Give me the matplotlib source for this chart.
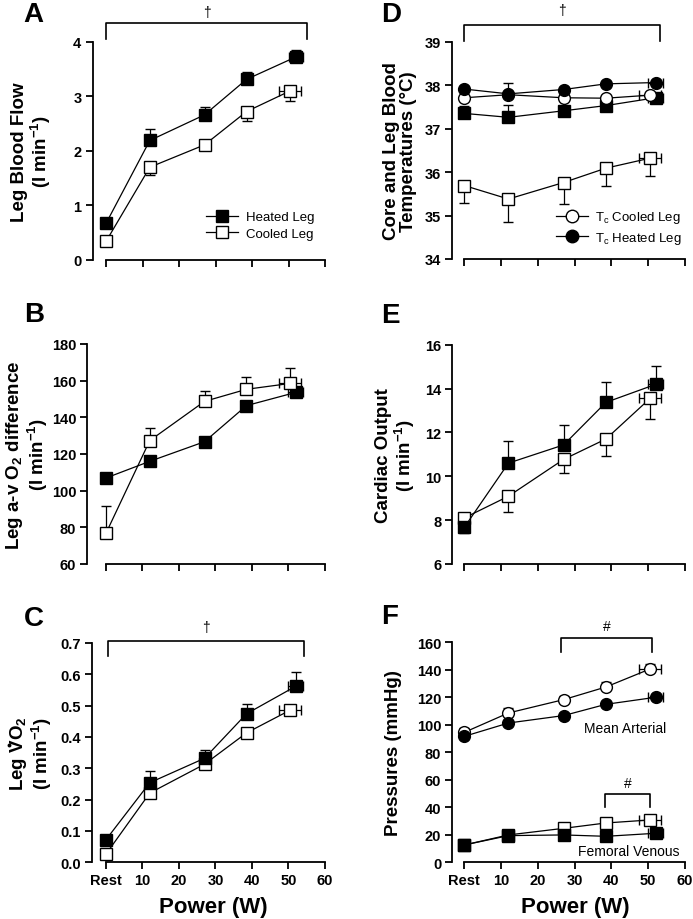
import numpy as np
import matplotlib.pyplot as plt
from matplotlib.lines import Line2D

plt.rcParams['font.family'] = ['Liberation Sans', 'DejaVu Sans']
plt.rcParams['font.weight'] = 'bold'
plt.rcParams['mathtext.fontset'] = 'custom'
plt.rcParams['mathtext.rm'] = 'Liberation Sans:weight=normal'
plt.rcParams['mathtext.bf'] = 'Liberation Sans:weight=bold'
plt.rcParams['mathtext.it'] = 'Liberation Sans:style=italic'
plt.rcParams['mathtext.default'] = 'bf'

# ---- data ----
power_ticks = [0, 10, 20, 30, 40, 50, 60]
power_labels = ['Rest', '10', '20', '30', '40', '50', '60']
power_heated = [0, 12, 27, 38.5, 52]
power_cooled = [0, 12, 27, 38.5, 50.5]
power_sd_heated = [0, 0, 0, 0, 2.0]
power_sd_cooled = [0, 0, 0, 0, 3.0]

# A: leg blood flow
flow_heated = [0.67, 2.19, 2.66, 3.31, 3.72]
flow_heated_up = [0.0, 0.21, 0.14, 0.14, 0.13]
flow_cooled = [0.34, 1.70, 2.11, 2.72, 3.10]
flow_cooled_dn = [0.0, 0.15, 0.08, 0.18, 0.19]

# B: leg a-v O2 difference
avo2_heated = [106.9, 116.0, 126.7, 146.4, 153.6]
avo2_heated_up = [1.5, 2.0, 2.0, 2.0, 2.0]
avo2_cooled = [76.7, 127.3, 148.7, 155.3, 158.5]
avo2_cooled_up = [15.1, 6.9, 5.7, 6.9, 8.2]

# C: leg VO2
vo2_heated = [0.072, 0.254, 0.332, 0.474, 0.562]
vo2_heated_up = [0.0, 0.039, 0.027, 0.031, 0.047]
vo2_cooled = [0.026, 0.221, 0.313, 0.413, 0.486]
vo2_cooled_dn = [0.0, 0.01, 0.01, 0.01, 0.01]

# D: temperatures
tc_heated = [37.91, 37.80, 37.90, 38.03, 38.06]
tc_heated_up = [0.03, 0.25, 0.03, 0.03, 0.03]
tc_cooled = [37.71, 37.78, 37.71, 37.70, 37.77]
tc_cooled_up = [0.03, 0.03, 0.03, 0.03, 0.03]
blood_heated = [37.35, 37.26, 37.41, 37.53, 37.71]
blood_heated_up = [0.16, 0.28, 0.10, 0.08, 0.05]
blood_cooled = [35.69, 35.38, 35.76, 36.09, 36.32]
blood_cooled_dn = [0.39, 0.52, 0.49, 0.42, 0.40]

# E: cardiac output
co_heated = [7.67, 10.60, 11.43, 13.37, 14.19]
co_heated_dn = [0.27, 0.0, 0.0, 0.0, 0.0]
co_heated_up = [0.0, 1.02, 0.91, 0.91, 0.85]
co_cooled = [8.10, 9.09, 10.77, 11.70, 13.55]
co_cooled_dn = [0.2, 0.70, 0.62, 0.76, 0.94]

# F: pressures
map_heated = [91.6, 101.3, 106.7, 114.9, 120.0]
map_heated_up = [2.0, 2.0, 2.0, 2.0, 2.0]
map_cooled = [94.5, 108.6, 118.3, 127.5, 140.6]
map_cooled_up = [3.0, 3.6, 3.0, 3.5, 3.6]
fv_heated = [12.6, 19.4, 19.9, 18.9, 21.1]
fv_cooled = [12.6, 19.9, 24.7, 28.6, 30.8]
fv_err = [1.0, 1.0, 1.0, 1.0, 1.0]
zeros = [0, 0, 0, 0, 0]

W, H = 693, 920
fig = plt.figure(figsize=(W / 100, H / 100), dpi=100)


def rect(left, right, top, bottom):
    return [left / W, 1 - bottom / H, (right - left) / W, (bottom - top) / H]


def series(ax, x, y, xerr, lo, hi, marker, filled, z=3):
    ax.errorbar(x, y, yerr=[lo, hi], xerr=xerr, marker=marker, ms=8.5,
                mfc='black' if filled else 'white', mec='black', mew=1.0,
                color='black', lw=0.9, ecolor='black', elinewidth=0.9,
                capsize=3.5, capthick=0.9, zorder=z, clip_on=False)


def style(ax, xleft, ylim, yticks, ylabel, labx, xlabels=False, yfmt='{:g}'):
    ax.set_xlim(xleft, 60)
    ax.set_ylim(*ylim)
    ax.spines['top'].set_visible(False)
    ax.spines['right'].set_visible(False)
    ax.spines['left'].set_bounds(*ylim)
    ax.spines['bottom'].set_bounds(0, 60)
    for s in ['left', 'bottom']:
        ax.spines[s].set_linewidth(1.3)
    ax.set_xticks(power_ticks)
    ax.set_yticks(yticks)
    ax.set_yticklabels([yfmt.format(v) for v in yticks])
    if xlabels:
        ax.set_xticklabels(power_labels)
        ax.set_xlabel('Power (W)', fontsize=16, fontweight='bold')
        ax.xaxis.set_label_coords(0.52, -0.153)
        ax.xaxis.label.set_va('top')
    else:
        ax.set_xticklabels([])
    ax.tick_params(direction='out', length=5, width=1.3, labelsize=10.5, pad=3)
    ax.set_ylabel(ylabel, fontsize=13.5, fontweight='bold', linespacing=1.05)
    ax.yaxis.set_label_coords(labx, 0.5)


def bracket(ax, x0, x1, ytick, yline, ytext, sym):
    ax.plot([x0, x0, x1, x1], [ytick, yline, yline, ytick], color='black',
            lw=1.2, clip_on=False)
    ax.text((x0 + x1) / 2, ytext, sym, ha='center', va='center',
            fontsize=10, fontweight='normal', clip_on=False)


# ---- A ----
axA = fig.add_axes(rect(92.5, 325, 42.7, 261))
series(axA, power_heated, flow_heated, power_sd_heated, zeros, flow_heated_up, 's', True, 4)
series(axA, power_cooled, flow_cooled, power_sd_cooled, flow_cooled_dn, zeros, 's', False, 3)
style(axA, -3.7, (0, 4), [0, 1, 2, 3, 4], 'Leg Blood Flow\n(l min$^{-1}$)', -0.169)
bracket(axA, 0, 55.2, 4.05, 4.336, 4.55, '†')
hA = [Line2D([], [], color='k', lw=0.9, marker='s', ms=8.5, mfc='k', mec='k'),
      Line2D([], [], color='k', lw=0.9, marker='s', ms=8.5, mfc='w', mec='k')]
axA.legend(hA, ['Heated Leg', 'Cooled Leg'], loc='center left',
           bbox_to_anchor=(0.488, 0.158), frameon=False, borderpad=0,
           borderaxespad=0, handlelength=2.4, handletextpad=0.6,
           labelspacing=0.35, prop={'size': 9.5, 'weight': 'normal'})

# ---- B ----
axB = fig.add_axes(rect(87.3, 325, 345, 565))
series(axB, power_heated, avo2_heated, power_sd_heated, zeros, avo2_heated_up, 's', True, 3)
series(axB, power_cooled, avo2_cooled, power_sd_cooled, zeros, avo2_cooled_up, 's', False, 4)
style(axB, -5.1, (60, 180), [60, 80, 100, 120, 140, 160, 180],
      'Leg a-v O$_2$ difference\n(l min$^{-1}$)', -0.158)

# ---- C ----
axC = fig.add_axes(rect(91.7, 325, 644, 863.3))
series(axC, power_heated, vo2_heated, power_sd_heated, zeros, vo2_heated_up, 's', True, 4)
series(axC, power_cooled, vo2_cooled, power_sd_cooled, vo2_cooled_dn, zeros, 's', False, 3)
style(axC, -3.9, (0, 0.7), [0.0, 0.1, 0.2, 0.3, 0.4, 0.5, 0.6, 0.7],
      'Leg VO$_2$\n(l min$^{-1}$)', -0.162, xlabels=True, yfmt='{:.1f}')
bracket(axC, 0.6, 54.2, 0.657, 0.705, 0.75, '†')

# ---- D ----
axD = fig.add_axes(rect(452.3, 685, 42.7, 260))
series(axD, power_cooled, blood_cooled, power_sd_cooled, blood_cooled_dn, zeros, 's', False, 3)
series(axD, power_heated, blood_heated, power_sd_heated, zeros, blood_heated_up, 's', True, 3)
series(axD, power_cooled, tc_cooled, power_sd_cooled, zeros, tc_cooled_up, 'o', False, 4)
series(axD, power_heated, tc_heated, power_sd_heated, zeros, tc_heated_up, 'o', True, 5)
style(axD, -3.26, (34, 39), [34, 35, 36, 37, 38, 39],
      'Core and Leg Blood\nTemperatures (°C)', -0.150)
bracket(axD, 0, 53.1, 39.02, 39.38, 39.72, '†')
hD = [Line2D([], [], color='k', lw=0.9, marker='o', ms=9, mfc='w', mec='k'),
      Line2D([], [], color='k', lw=0.9, marker='o', ms=9, mfc='k', mec='k')]
axD.legend(hD, ['$\\mathrm{T_c}$ Cooled Leg', '$\\mathrm{T_c}$ Heated Leg'],
           loc='center left', bbox_to_anchor=(0.445, 0.144), frameon=False,
           borderpad=0, borderaxespad=0, handlelength=2.4, handletextpad=0.6,
           labelspacing=0.35, prop={'size': 9.5, 'weight': 'normal'})

# ---- E ----
axE = fig.add_axes(rect(452.3, 685, 345.7, 565))
series(axE, power_cooled, co_cooled, power_sd_cooled, co_cooled_dn, zeros, 's', False, 3)
series(axE, power_heated, co_heated, power_sd_heated, co_heated_dn, co_heated_up, 's', True, 4)
style(axE, -3.26, (6, 16), [6, 8, 10, 12, 14, 16], 'Cardiac Output\n(l min$^{-1}$)', -0.150)

# ---- F ----
axF = fig.add_axes(rect(452.3, 685, 643.3, 863.3))
series(axF, power_cooled, map_cooled, power_sd_cooled, zeros, map_cooled_up, 'o', False, 3)
series(axF, power_heated, map_heated, power_sd_heated, zeros, map_heated_up, 'o', True, 4)
series(axF, power_cooled, fv_cooled, power_sd_cooled, zeros, fv_err, 's', False, 3)
series(axF, power_heated, fv_heated, power_sd_heated, zeros, fv_err, 's', True, 4)
style(axF, -3.26, (0, 160), [0, 20, 40, 60, 80, 100, 120, 140, 160],
      'Pressures (mmHg)', -0.215, xlabels=True)
axF.xaxis.set_label_coords(0.527, -0.153)
bracket(axF, 26.4, 50.9, 152.7, 162.9, 171.6, '#')
bracket(axF, 38.3, 50.6, 40, 49.7, 57.5, '#')
axF.text(43.7, 98, 'Mean Arterial', ha='center', va='center', fontsize=10, fontweight='normal')
axF.text(44.6, 8, 'Femoral Venous', ha='center', va='center', fontsize=10, fontweight='normal')

# panel letters
for letter, (px, py) in zip('ABCDEF', [(33, 15), (34, 315), (34, 619),
                                       (391, 15), (390, 316), (390, 617)]):
    fig.text(px / W, 1 - py / H, letter, fontsize=20, fontweight='bold',
             ha='center', va='center')

# dot over the V of "Leg VO2" (rate symbol)
fig.canvas.draw()
r = fig.canvas.get_renderer()
lab = axC.yaxis.label
bb = lab.get_window_extent(r)
fp = lab.get_fontproperties()
w_line1 = r.get_text_width_height_descent('Leg VO$_2$', fp, ismath=True)[0]
w_leg = r.get_text_width_height_descent('Leg ', fp, ismath=False)[0]
w_v = r.get_text_width_height_descent('V', fp, ismath=False)[0]
yc = (bb.y0 + bb.y1) / 2 - w_line1 / 2 + w_leg + w_v / 2
xc = bb.x0 + 1.0
fig.add_artist(Line2D([xc / W], [yc / H], marker='o', ms=2.8, color='black',
                      mew=0, transform=fig.transFigure))

fig.savefig('out.png', dpi=100)
